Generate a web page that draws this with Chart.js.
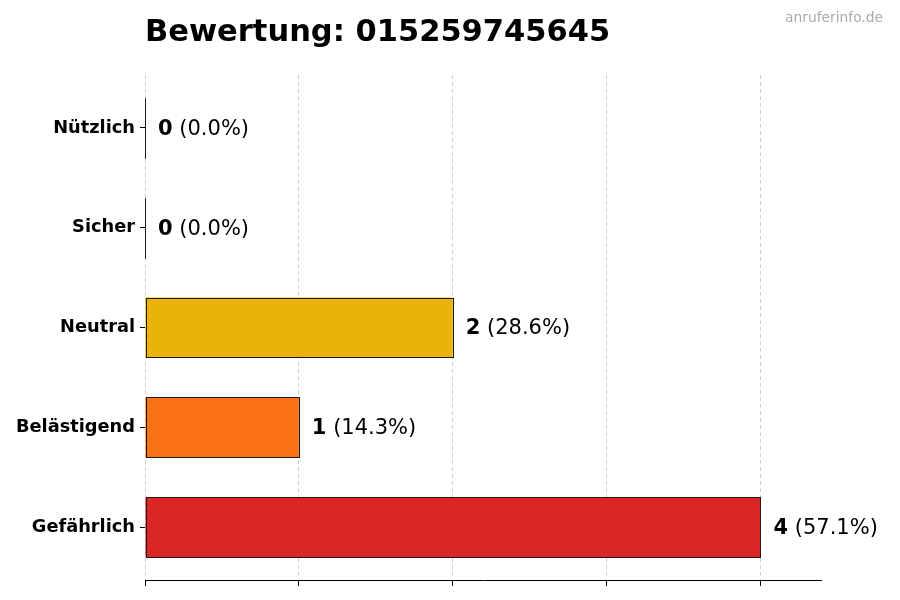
<!DOCTYPE html>
<html>
<head>
<meta charset="utf-8">
<script src="https://cdn.jsdelivr.net/npm/chart.js@4/dist/chart.umd.min.js"></script>
<style>
  html, body { margin: 0; padding: 0; background: #fff; }
  #wrap { width: 900px; height: 600px; }
</style>
</head>
<body>
<div id="wrap"><canvas id="rating-chart"></canvas></div>
<script>
const categories = ['Nützlich', 'Sicher', 'Neutral', 'Belästigend', 'Gefährlich'];
const counts = [0, 0, 2, 1, 4];
const barColors = ['#16a34a', '#2563eb', '#eab308', '#f97316', '#dc2626'];
const xTicks = [0, 1, 2, 3, 4];
const phoneNumber = '015259745645';

const total = counts.reduce((a, b) => a + b, 0);
const FONT = '"DejaVu Sans", sans-serif';

const extras = {
  id: 'extras',
  afterDatasetsDraw(chart) {
    const ctx = chart.ctx;
    const area = chart.chartArea;
    const meta = chart.getDatasetMeta(0);
    ctx.save();
    // solid bottom spine
    ctx.setLineDash([]);
    ctx.strokeStyle = '#000';
    ctx.lineWidth = 1;
    ctx.beginPath();
    ctx.moveTo(area.left, area.bottom + 0.5);
    ctx.lineTo(area.right, area.bottom + 0.5);
    ctx.stroke();
    // crisp bar outlines
    ctx.strokeStyle = '#1a1a1a';
    meta.data.forEach(bar => {
      const h = bar.height / 2;
      const l = Math.round(bar.base) + 0.5;
      const r = Math.round(bar.x) + 0.5;
      const t = Math.round(bar.y - h) + 0.5;
      const b = Math.round(bar.y + h) + 0.5;
      ctx.strokeRect(l, t, r - l, b - t);
    });
    // value labels
    ctx.textBaseline = 'middle';
    ctx.textAlign = 'left';
    meta.data.forEach((bar, i) => {
      const pct = total ? (counts[i] / total * 100).toFixed(1) : '0.0';
      let x = bar.x + 13;
      const y = bar.y + 1.5;
      ctx.fillStyle = '#000';
      ctx.font = 'bold 21px ' + FONT;
      const num = String(counts[i]);
      ctx.fillText(num, x, y);
      x += ctx.measureText(num).width;
      ctx.font = '21px ' + FONT;
      ctx.fillText(' (' + pct + '%)', x, y);
    });
    // title + watermark
    ctx.textBaseline = 'alphabetic';
    ctx.fillStyle = '#000';
    ctx.font = 'bold 30.5px ' + FONT;
    ctx.fillText('Bewertung: ' + phoneNumber, area.left, 41);
    ctx.textAlign = 'right';
    ctx.fillStyle = '#aaa';
    ctx.font = '13.8px ' + FONT;
    ctx.fillText('anruferinfo.de', 883, 22);
    ctx.restore();
  }
};

new Chart(document.getElementById('rating-chart'), {
  type: 'bar',
  data: {
    datasets: [{
      data: counts.map((v, i) => ({ x: v, y: i })),
      backgroundColor: barColors,
      borderWidth: 0,
      barPercentage: 0.6,
      categoryPercentage: 1.0
    }]
  },
  options: {
    indexAxis: 'y',
    responsive: true,
    maintainAspectRatio: false,
    animation: false,
    layout: { padding: { top: 75, right: 78, left: 0, bottom: 0 } },
    plugins: { legend: { display: false }, tooltip: { enabled: false } },
    scales: {
      x: {
        type: 'linear',
        min: 0,
        max: 4.4,
        afterBuildTicks(scale) { scale.ticks = xTicks.map(v => ({ value: v })); },
        afterFit(scale) { scale.height = 20; },
        ticks: { display: false },
        border: { display: false, dash: [4, 3] },
        grid: {
          color: '#d0d0d0',
          lineWidth: 1,
          drawTicks: true,
          tickLength: 6,
          tickColor: '#000',
          tickBorderDash: [],
          tickWidth: 1
        }
      },
      y: {
        type: 'linear',
        reverse: true,
        offset: false,
        min: -0.53,
        max: 4.53,
        afterBuildTicks(scale) { scale.ticks = categories.map((c, i) => ({ value: i })); },
        afterFit(scale) { scale.width = 145; },
        ticks: {
          callback: v => categories[v],
          color: '#000',
          padding: 5,
          font: { family: FONT, size: 17.8, weight: 'bold' }
        },
        border: { display: false },
        grid: {
          offset: false,
          drawOnChartArea: false,
          drawTicks: true,
          tickLength: 5,
          tickColor: '#000'
        }
      }
    }
  },
  plugins: [extras]
});
</script>
</body>
</html>
